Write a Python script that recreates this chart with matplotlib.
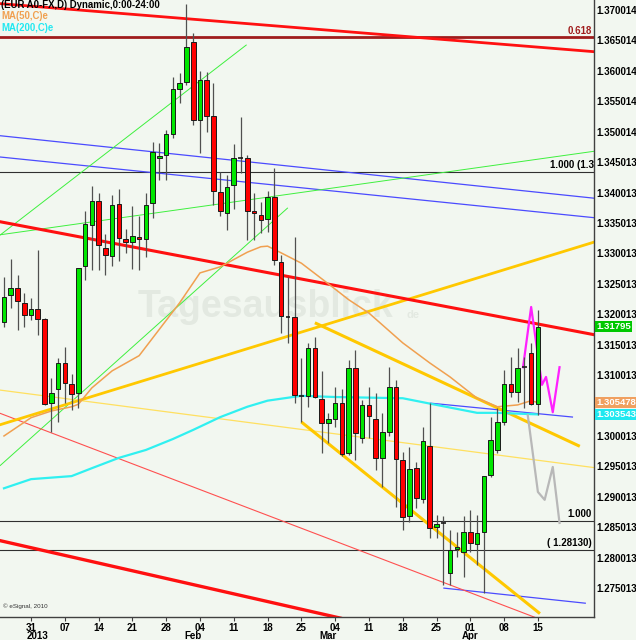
import numpy as np
import matplotlib
matplotlib.use('Agg')
import matplotlib.pyplot as plt
from matplotlib.transforms import blended_transform_factory

plt.rcParams['font.family'] = ['Liberation Sans', 'DejaVu Sans']

# daily candles, index 0 = 25 Dec 2012, last = 15 Apr 2013
opens = [1.3187, 1.3232, 1.3243, 1.3219, 1.3199, 1.3209, 1.3192, 1.3054, 1.3077, 1.3120,
         1.3085, 1.3071, 1.3279, 1.3347, 1.3386, 1.3309, 1.3296, 1.3381, 1.3324, 1.3319,
         1.3327, 1.3324, 1.3383, 1.3457, 1.3462, 1.3496, 1.3570, 1.3582, 1.3648, 1.3519,
         1.3585, 1.3526, 1.3401, 1.3366, 1.3412, 1.3457, 1.3457, 1.3370, 1.3363, 1.3357,
         1.3393, 1.3286, 1.3196, 1.3195, 1.3066, 1.3066, 1.3145, 1.3061, 1.3021, 1.3028,
         1.3054, 1.2972, 1.3112, 1.2997, 1.3051, 1.3028, 1.2964, 1.3006, 1.3080, 1.2960,
         1.2868, 1.2947, 1.2896, 1.2983, 1.2850, 1.2857, 1.2775, 1.2814, 1.2809, 1.2842,
         1.2822, 1.2842, 1.2936, 1.2977, 1.3023, 1.3085, 1.3072, 1.3113, 1.3136, 1.3052]
highs = [1.3261, 1.3291, 1.3265, 1.3235, 1.3227, 1.3306, 1.3194, 1.3095, 1.3128, 1.3146,
         1.3102, 1.3276, 1.3370, 1.3411, 1.3399, 1.3332, 1.3396, 1.3406, 1.3340, 1.3378,
         1.3362, 1.3399, 1.3483, 1.3482, 1.3503, 1.3590, 1.3597, 1.3710, 1.3662, 1.3600,
         1.3598, 1.3580, 1.3434, 1.3429, 1.3480, 1.3524, 1.3462, 1.3399, 1.3385, 1.3403,
         1.3440, 1.3297, 1.3261, 1.3327, 1.3128, 1.3153, 1.3163, 1.3107, 1.3038, 1.3080,
         1.3077, 1.3125, 1.3141, 1.3059, 1.3080, 1.3071, 1.3038, 1.3113, 1.3092, 1.2974,
         1.2982, 1.2957, 1.3015, 1.3054, 1.2870, 1.2868, 1.2845, 1.2842, 1.2868, 1.2878,
         1.2870, 1.2934, 1.3031, 1.3046, 1.3108, 1.3130, 1.3145, 1.3130, 1.3153, 1.3207]
lows = [1.3179, 1.3210, 1.3174, 1.3179, 1.3191, 1.3166, 1.3051, 1.3006, 1.3023, 1.3054,
        1.3043, 1.3046, 1.3256, 1.3273, 1.3273, 1.3265, 1.3279, 1.3288, 1.3301, 1.3274,
        1.3273, 1.3294, 1.3358, 1.3421, 1.3421, 1.3490, 1.3547, 1.3577, 1.3511, 1.3465,
        1.3500, 1.3380, 1.3362, 1.3338, 1.3373, 1.3432, 1.3322, 1.3322, 1.3334, 1.3335,
        1.3281, 1.3169, 1.3153, 1.3054, 1.3023, 1.3048, 1.3062, 1.2972, 1.2988, 1.3015,
        1.2967, 1.2969, 1.2960, 1.2988, 1.2997, 1.2944, 1.2916, 1.3000, 1.2883, 1.2845,
        1.2859, 1.2882, 1.2890, 1.2832, 1.2832, 1.2755, 1.2755, 1.2801, 1.2768, 1.2809,
        1.2788, 1.2742, 1.2933, 1.2972, 1.3018, 1.3064, 1.3056, 1.3046, 1.3051, 1.3034]
closes = [1.3228, 1.3243, 1.3222, 1.3199, 1.3209, 1.3192, 1.3052, 1.3071, 1.3120, 1.3087,
          1.3069, 1.3276, 1.3348, 1.3386, 1.3314, 1.3297, 1.3380, 1.3325, 1.3319, 1.3329,
          1.3324, 1.3380, 1.3467, 1.3460, 1.3496, 1.3570, 1.3580, 1.3639, 1.3519, 1.3585,
          1.3526, 1.3403, 1.3370, 1.3409, 1.3457, 1.3457, 1.3370, 1.3366, 1.3355, 1.3393,
          1.3289, 1.3197, 1.3196, 1.3067, 1.3066, 1.3145, 1.3064, 1.3021, 1.3028, 1.3054,
          1.2970, 1.3112, 1.3005, 1.3051, 1.3033, 1.2964, 1.3006, 1.3080, 1.2962, 1.2867,
          1.2946, 1.2898, 1.2992, 1.2849, 1.2855, 1.2857, 1.2813, 1.2817, 1.2842, 1.2824,
          1.2840, 1.2934, 1.2993, 1.3023, 1.3085, 1.3072, 1.3112, 1.3113, 1.3052, 1.31795]

# moving averages (read at some candle positions)
ma50_idx = [0, 4, 7, 10, 11, 13, 16, 20, 26, 29, 32, 36, 38, 39, 41, 44, 48, 51, 54, 59, 63, 66, 70, 73, 76, 78, 79]
ma50_val = [1.3000, 1.3030, 1.3041, 1.3048, 1.3052, 1.3079, 1.3107, 1.3132, 1.3219, 1.3268, 1.3278, 1.3302,
            1.3311, 1.3312, 1.3301, 1.3284, 1.3250, 1.3224, 1.3202, 1.3153, 1.3120, 1.3097, 1.3062, 1.3048,
            1.3051, 1.3058, 1.305478]
ma200_idx = [0, 4, 10, 13, 17, 21, 25, 28, 32, 36, 39, 44, 49, 59, 64, 70, 73, 79]
ma200_val = [1.2914, 1.2929, 1.2934, 1.2947, 1.2964, 1.2977, 1.2995, 1.3010, 1.3031, 1.3048, 1.3058,
             1.3066, 1.3064, 1.3062, 1.3051, 1.3038, 1.3038, 1.303543]

# projections
mag_idx = [76.8, 78.0, 79.6, 80.2, 81.2, 82.2]
mag_val = [1.3113, 1.3212, 1.3084, 1.3097, 1.3039, 1.3113]
gray_idx = [77.5, 79.0, 80.0, 81.2, 82.2]
gray_val = [1.3034, 1.2908, 1.2895, 1.2949, 1.2857]

# trend lines: (x0, x1), (y0, y1)
red_top = ([-1, 88], [1.3711, 1.3631])
red_mid = ([-1, 88], [1.3353, 1.3165])
red_low = ([-1, 50], [1.2829, 1.2700])
red_thin = ([-1, 79], [1.3039, 1.2700])
blue_1 = ([-1, 88], [1.3494, 1.3390])
blue_2 = ([-1, 88], [1.3459, 1.3358])
blue_3 = ([63, 84.2], [1.3054, 1.3031])
blue_4 = ([65, 86.1], [1.2750, 1.2725])
green_1 = ([-0.6, 42], [1.2951, 1.3375])
green_2 = ([-0.6, 35.9], [1.3330, 1.3643])
green_3 = ([-1, 88], [1.3330, 1.3469])
gold_up = ([-1, 88], [1.3017, 1.3321])
gold_top = ([46, 85.2], [1.3186, 1.2983])
gold_bot = ([44, 79.3], [1.3023, 1.2708])
yellow_thin = ([-1, 88], [1.3076, 1.2947])

fib_levels = [1.3655, 1.3434, 1.2860, 1.2813]

tick_idx = [4, 9, 14, 19, 24, 29, 34, 39, 44, 49, 54, 59, 64, 69, 74, 79]
tick_lbl = ['31', '07', '14', '21', '28', '04', '11', '18', '25', '04', '11', '18', '25', '01', '08', '15']
month_idx = [5, 28, 48, 69]
month_lbl = ['2013', 'Feb', 'Mar', 'Apr']

price_ticks = [1.370014, 1.365014, 1.360014, 1.355014, 1.350014, 1.345013, 1.340013, 1.335013,
               1.330013, 1.325013, 1.320013, 1.315013, 1.310013, 1.300013, 1.295013, 1.290013,
               1.285013, 1.280013, 1.275013]

bg = '#f2f7f0'
fig = plt.figure(figsize=(6.36, 6.4), dpi=100, facecolor=bg)
ax = fig.add_axes([0, 23 / 640, 594 / 636, 617 / 640], facecolor=bg)

# watermark
ax.text(19.7, 1.3195, 'Tagesausblick', fontsize=27, fontweight='bold', color='#e3e9e1', zorder=0.5)
ax.text(59.6, 1.3194, 'de', fontsize=8, fontweight='bold', color='#e3e9e1', zorder=0.5)

# horizontal levels
for lv, c, w in zip(fib_levels, ['#a01c1c', '#303030', '#303030', '#303030'], [2.0, 0.8, 0.8, 0.8]):
    ax.axhline(lv, color=c, lw=w, zorder=1)

def seg(line, color, lw, z=2):
    ax.plot(line[0], line[1], color=color, lw=lw, zorder=z, solid_capstyle='butt')

seg(blue_1, '#4b4bff', 0.9)
seg(blue_2, '#4b4bff', 0.9)
seg(blue_3, '#4b4bff', 0.9)
seg(blue_4, '#4b4bff', 0.9)
seg(green_1, '#3ef03e', 0.7)
seg(green_2, '#3ef03e', 0.7)
seg(green_3, '#3ef03e', 0.7)
seg(yellow_thin, '#ffe060', 0.9)
seg(red_thin, '#ff5050', 0.8)
seg(gold_up, '#ffc800', 2.0)
seg(gold_top, '#ffc800', 2.2)
seg(gold_bot, '#ffc800', 2.2)
seg(red_top, '#ff1010', 2.0)
seg(red_mid, '#ff1010', 2.2)
seg(red_low, '#ff1010', 2.4)

ax.plot(ma50_idx, ma50_val, color='#f0a050', lw=1.1, zorder=2)
ax.plot(ma200_idx, ma200_val, color='#30f0f0', lw=1.6, zorder=2)
ax.plot(mag_idx, mag_val, color='#ff20ff', lw=1.6, zorder=2.5)
ax.plot(gray_idx, gray_val, color='#b8b8b8', lw=1.6, zorder=2.5)

# candles
x = np.arange(len(opens))
o = np.array(opens); h = np.array(highs); l = np.array(lows); c = np.array(closes)
up = c > o
dn = c < o
flat = c == o
ax.vlines(x, l, h, color='#505050', lw=0.9, zorder=3)
ax.bar(x[up], (c - o)[up], bottom=o[up], width=0.68, color='#00e600', edgecolor='#1a1a1a', lw=0.7, zorder=4)
ax.bar(x[dn], (o - c)[dn], bottom=c[dn], width=0.68, color='#ff0000', edgecolor='#1a1a1a', lw=0.7, zorder=4)
ax.hlines(c[flat], x[flat] - 0.34, x[flat] + 0.34, color='#1a1a1a', lw=1.2, zorder=4)

# level labels
ax.text(87.0, 1.3658, '0.618', ha='right', va='bottom', color='#a01c1c', fontsize=7, fontweight='bold', zorder=5)
ax.text(87.3, 1.3437, '1.000 (1.3', ha='right', va='bottom', color='black', fontsize=7,
        fontweight='bold', zorder=5)
ax.text(87.0, 1.2863, '1.000', ha='right', va='bottom', color='black', fontsize=7, fontweight='bold', zorder=5)
ax.text(87.0, 1.2816, '( 1.28130)', ha='right', va='bottom', color='black', fontsize=7, fontweight='bold', zorder=5)

ax.set_xlim(-0.59, 87.3)
ax.set_ylim(1.270242, 1.371658)

for s in ['left', 'top']:
    ax.spines[s].set_visible(False)
for s in ['right', 'bottom']:
    ax.spines[s].set_color('#404040')
    ax.spines[s].set_linewidth(1)

ax.yaxis.tick_right()
ax.set_yticks(price_ticks)
ax.set_yticklabels(['%.6f' % p for p in price_ticks])
ax.tick_params(axis='y', length=0, pad=2, labelsize=7)
ax.set_xticks(tick_idx)
ax.set_xticklabels(tick_lbl)
ax.tick_params(axis='x', length=3, pad=1, labelsize=7, color='#404040')
for t in ax.get_xticklabels() + ax.get_yticklabels():
    t.set_fontweight('bold')

tr = blended_transform_factory(ax.transData, ax.transAxes)
for mi, ml in zip(month_idx, month_lbl):
    ax.text(mi, -0.031, ml, transform=tr, ha='center', va='center', fontsize=7, fontweight='bold')

# current value boxes
tr2 = blended_transform_factory(ax.transAxes, ax.transData)
for val, txt, fc in [(1.31795, '1.31795', '#00c800'), (ma50_val[-1], '1.305478', '#f0a060'),
                     (ma200_val[-1], '1.303543', '#20e8f0')]:
    ax.text(1.004, val, txt, transform=tr2, ha='left', va='center', fontsize=6.8, fontweight='bold',
            color='white', bbox=dict(boxstyle='square,pad=0.12', fc=fc, ec='none'), clip_on=False)

# header
fig.text(0.002, 1 - 5 / 640, '(EUR A0-FX,D) Dynamic,0:00-24:00', fontsize=6.9, fontweight='bold',
         color='black', va='center')
fig.text(0.002, 1 - 16 / 640, 'MA(50,C)e', fontsize=6.9, fontweight='bold', color='#f0a050', va='center')
fig.text(0.002, 1 - 28 / 640, 'MA(200,C)e', fontsize=6.9, fontweight='bold', color='#20e8f0', va='center')
fig.text(3 / 636, 1 - 606 / 640, '\u00a9 eSignal, 2010', fontsize=4.5, color='#333333', va='center')

fig.savefig('out.png', dpi=100, facecolor=bg)
